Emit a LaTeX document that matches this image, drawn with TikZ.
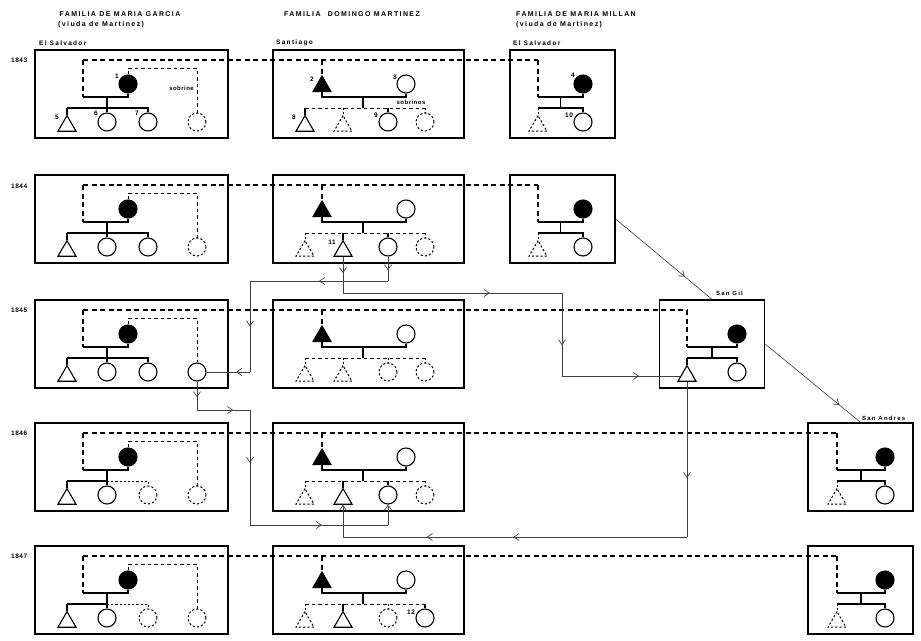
\documentclass[tikz,border=0pt]{standalone}
\usepackage{fontspec}
\setmainfont{Liberation Sans}
\newfontfamily\hdrfont{Liberation Sans}[LetterSpace=20]
\newfontfamily\lblfont{Liberation Sans}[LetterSpace=8]
\usetikzlibrary{shapes.geometric,arrows.meta,decorations.markings}

\tikzset{
 fam/.style={draw, line width=1.3pt, inner sep=0pt, minimum height=88pt},
 pc/.style={circle, draw, line width=1.1pt, minimum size=18pt, inner sep=0pt},
 pt/.style={regular polygon, regular polygon sides=3, draw, line width=1.1pt, minimum size=20.8pt, inner sep=0pt},
 filledp/.style={fill=black},
 gone/.style={dash pattern=on 2.2pt off 2pt, line width=1pt},
 pres/.style={},
 kin/.style={line width=1.1pt},
 tie/.style={line width=1.1pt, dash pattern=on 5pt off 3.5pt},
 sibtie/.style={line width=1pt, dash pattern=on 3.5pt off 3pt},
 move/.style={line width=0.6pt, black!75},
 arrat/.style={decoration={markings, mark=at position #1 with {\arrow{Straight Barb[length=5pt,width=7pt,line width=0.7pt]}}}, postaction={decorate}},
 endarr/.style={-{Straight Barb[length=5pt,width=7pt,line width=0.7pt]}},
 hdr/.style={font=\hdrfont\bfseries\fontsize{7}{8}\selectfont, inner sep=0pt},
 placelbl/.style={font=\hdrfont\bfseries\fontsize{6.5}{7}\selectfont, inner sep=0pt, anchor=west},
 townlbl/.style={font=\hdrfont\bfseries\fontsize{6}{7}\selectfont, inner sep=0pt, anchor=west},
 tinylbl/.style={font=\lblfont\bfseries\fontsize{6}{7}\selectfont, inner sep=0pt},
 numlbl/.style={font=\lblfont\bfseries\fontsize{6.5}{7}\selectfont, inner sep=0pt},
 yr/.style={font=\lblfont\bfseries\fontsize{6.5}{7}\selectfont, inner sep=0pt, anchor=west},
}

% Garcia family box: id, top, styles of the four children
\newcommand\GFam[6]{%
\begin{scope}[yshift=-#2pt]
 \node[fam, minimum width=193pt] (#1) at (131.5,44) {};
 \node[pc, filledp] (#1F) at (128,34) {};
 \node[pt, #3] (#1a) at (67,76) {};
 \node[pc, #4] (#1b) at (107,72) {};
 \node[pc, #5] (#1c) at (148,72) {};
 \node[pc, #6] (#1d) at (197,72) {};
 \coordinate (#1L) at (83,10);
 \coordinate (#1cp) at (83,47);
 \coordinate (#1sb) at (107,58);
 \coordinate (#1in) at (160,18);
 \draw[tie] (#1L) -- (#1cp);
 \draw[kin] (#1cp) -| (#1F.south);
 \draw[kin] (#1b.north |- #1cp) -- (#1sb);
 \draw[kin] (#1a.north |- #1sb) -- (#1sb);
 \draw[kin, #5] (#1sb) -- (#1c.north |- #1sb) -- (#1c.north);
 \draw[kin, #3] (#1a.north |- #1sb) -- (#1a.north);
 \draw[kin, #4] (#1sb) -- (#1b.north);
 \draw[sibtie] (#1F.north) |- (#1in) -| (#1d.north);
\end{scope}}

% Martinez family box
\newcommand\MFam[6]{%
\begin{scope}[yshift=-#2pt]
 \node[fam, minimum width=191pt] (#1) at (368.5,44) {};
 \node[pt, filledp] (#1F) at (322,36.4) {};
 \node[pc] (#1M) at (406,34) {};
 \node[pt, #3] (#1a) at (305,76) {};
 \node[pt, #4] (#1b) at (343,76) {};
 \node[pc, #5] (#1c) at (388,72) {};
 \node[pc, #6] (#1d) at (425,72) {};
 \coordinate (#1L) at (322,10);
 \coordinate (#1cp) at (363,47);
 \coordinate (#1sb) at (363,58);
 \draw[tie] (#1L) -- (#1F.north);
 \draw[kin] (#1F.south) |- (#1cp) -| (#1M.south);
 \draw[kin] (#1cp) -- (#1sb);
 \draw[sibtie] (#1a.north |- #1sb) -- (#1d.north |- #1sb);
 \draw[kin, #3] (#1a.north |- #1sb) -- (#1a.north);
 \draw[kin, #4] (#1b.north |- #1sb) -- (#1b.north);
 \draw[kin, #5] (#1c.north |- #1sb) -- (#1c.north);
 \draw[kin, #6] (#1d.north |- #1sb) -- (#1d.north);
\end{scope}}

% small family box: id, top, left x, circle x, box centre x, style of son
\newcommand\SFam[6]{%
\begin{scope}[yshift=-#2pt]
 \node[fam, minimum width=105pt] (#1) at (#5,44) {};
 \node[pc, filledp] (#1F) at (#4,34) {};
 \node[pt, #6] (#1a) at (#3,76) {};
 \node[pc] (#1b) at (#4,72) {};
 \coordinate (#1L) at (#3,10);
 \coordinate (#1cp) at (#3,47);
 \coordinate (#1sb) at (#3,58);
 \coordinate (#1st) at ({(#3+#4)/2},47);
 \draw[tie] (#1L) -- (#1cp);
 \draw[kin] (#1cp) -| (#1F.south);
 \draw[kin] (#1st) -- (#1st |- #1sb);
 \draw[kin] (#1sb) -- (#1b.north |- #1sb) -- (#1b.north);
 \draw[kin, #6] (#1sb) -- (#1a.north);
\end{scope}}

\begin{document}
\begin{tikzpicture}[x=1pt,y=-1pt]
\useasboundingbox (0,0) rectangle (921,640);
\fill[white] (0,0) rectangle (921,640);

% headers
\node[hdr] (h1) at (120,14) {FAMILIA DE MARIA GARCIA};
\node[hdr, anchor=west] (h1b) at (58,25) {(viuda de Martinez)};
\node[hdr] (h2) at (352,14) {FAMILIA\hspace{4pt} DOMINGO MARTINEZ};
\node[hdr] (h3) at (576,14) {FAMILIA DE MARIA MILLAN};
\node[hdr, anchor=west] (h3b) at (516,25) {(viuda de Martinez)};
\node[placelbl] (p1) at (39,43) {El Salvador};
\node[placelbl] (p2) at (276,43) {Santiago};
\node[placelbl] (p3) at (513,43) {El Salvador};
\node[townlbl] (p4) at (716,293) {San Gil};
\node[townlbl] (p5) at (862,418) {San Andres};

% years
\node[yr] (y1) at (11,60) {1843};
\node[yr] (y2) at (11,186) {1844};
\node[yr] (y3) at (11,310) {1845};
\node[yr] (y4) at (11,433) {1846};
\node[yr] (y5) at (11,556) {1847};

% 1843
\GFam{ga}{50}{pres}{pres}{pres}{gone}
\MFam{ma}{50}{pres}{gone}{pres}{gone}
\SFam{sa}{50}{538}{583}{562.5}{gone}
\draw[tie] (gaL) -- (saL);
% 1844
\GFam{gb}{175}{pres}{pres}{pres}{gone}
\MFam{mb}{175}{gone}{pres}{pres}{gone}
\SFam{sb}{175}{538}{583}{562.5}{gone}
\draw[tie] (gbL) -- (sbL);
% 1845
\GFam{gc}{300}{pres}{pres}{pres}{pres}
\MFam{mc}{300}{gone}{gone}{gone}{gone}
\SFam{sg}{300}{687}{737}{712}{pres}
\draw[tie] (gcL) -- (sgL);
% 1846
\GFam{gd}{423}{pres}{pres}{gone}{gone}
\MFam{md}{423}{gone}{pres}{pres}{gone}
\SFam{sd}{423}{837}{885}{860.5}{gone}
\draw[tie] (gdL) -- (sdL);
% 1847
\GFam{ge}{546}{pres}{pres}{gone}{gone}
\MFam{me}{546}{gone}{pres}{gone}{pres}
\SFam{se}{546}{837}{885}{860.5}{gone}
\draw[tie] (geL) -- (seL);

% numbers and kin labels
\node[numlbl] (n1) at (117,76) {1};
\node[numlbl] (n5) at (57,117) {5};
\node[numlbl] (n6) at (96,113) {6};
\node[numlbl] (n7) at (137,113) {7};
\node[tinylbl, anchor=east] (nsob) at (194,88) {sobrine};
\node[numlbl] (n2) at (312,79) {2};
\node[numlbl] (n3) at (395,77) {3};
\node[numlbl] (n8) at (294,117) {8};
\node[numlbl] (n9) at (376,115) {9};
\node[tinylbl] (nsobs) at (411,102) {sobrinos};
\node[numlbl] (n4) at (573,75) {4};
\node[numlbl] (n10) at (569,115) {10};
\node[numlbl] (n11) at (332,242) {11};
\node[numlbl] (n12) at (411,612) {12};

% migration lanes
\coordinate (lanea) at (0,293);
\coordinate (laneb) at (0,281);
\coordinate (lanec) at (0,410);
\coordinate (laned) at (0,525);
\coordinate (lanee) at (0,537);
\coordinate (colb) at (250,0);
\coordinate (cola) at (562,0);
\coordinate (cole) at (470,0);

% son 11 to San Gil
\draw[move, arrat=0.45] (mbb.south) -- (mbb.south |- lanea);
\draw[move, arrat=0.67] (mbb.south |- lanea) -- (cola |- lanea);
\draw[move, arrat=0.63] (cola |- lanea) -- (cola |- sga.west);
\draw[move, arrat=0.65] (cola |- sga.west) -- (sga.west);
% niece to Garcia
\draw[move, arrat=0.56] (mbc.south) -- (mbc.south |- laneb);
\draw[move, arrat=0.5] (mbc.south |- laneb) -- (colb |- laneb);
\draw[move, arrat=0.5] (colb |- laneb) -- (colb |- gcd.east);
\draw[move, arrat=0.32] (colb |- gcd.east) -- (gcd.east);
% niece back to Martinez
\draw[move, arrat=0.55] (gcd.south) -- (gcd.south |- lanec);
\draw[move, arrat=0.68] (gcd.south |- lanec) -- (colb |- lanec);
\draw[move, arrat=0.46] (colb |- lanec) -- (colb |- laned);
\draw[move, arrat=0.52] (colb |- laned) -- (mdc.south |- laned);
\draw[move, endarr] (mdc.south |- laned) -- (mdc.south);
% son 11 back to Martinez
\draw[move, arrat=0.62] (sga.south) -- (sga.south |- lanee);
\draw[move, arrat=0.8] (sga.south |- lanee) -- (cole |- lanee);
\draw[move, arrat=0.34] (cole |- lanee) -- (mdb.south |- lanee);
\draw[move, endarr] (mdb.south |- lanee) -- (mdb.south);
% widow Millan moves
\draw[move, arrat=0.72] (sb.east) -- (sg.north);
\draw[move, arrat=0.78] (sg.east) -- (sd.north);
\end{tikzpicture}
\end{document}
